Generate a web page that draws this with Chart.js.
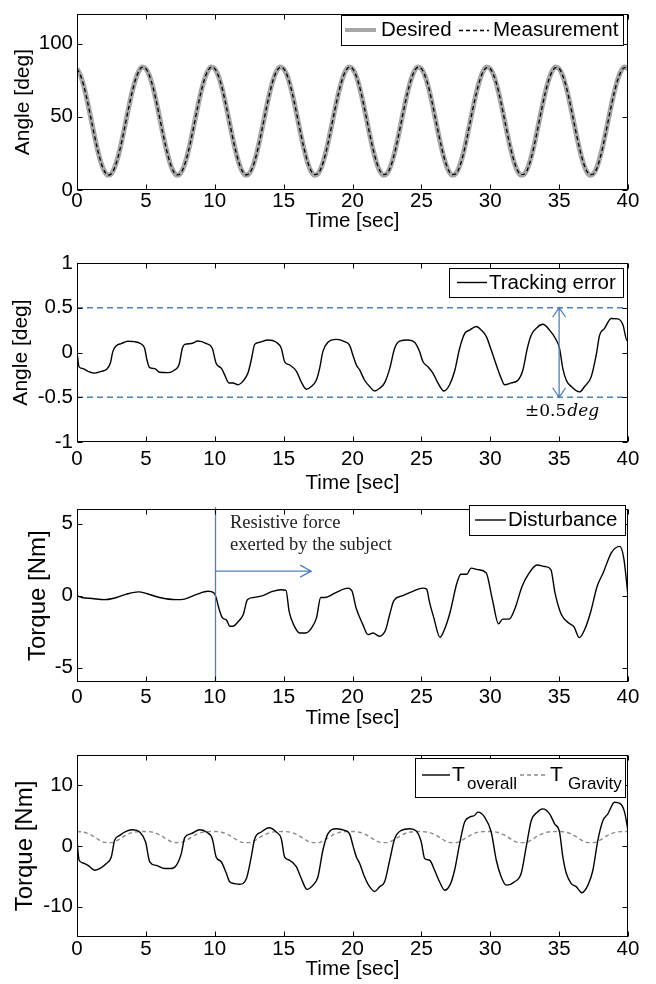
<!DOCTYPE html>
<html><head><meta charset="utf-8">
<script src="https://cdn.jsdelivr.net/npm/chart.js@4.4.1/dist/chart.umd.min.js"></script>
<style>
html,body{margin:0;padding:0;background:#fff;}
#wrap{position:relative;width:656px;height:984px;overflow:hidden;background:#fff;}
canvas{position:absolute;left:0;}
</style></head><body><div id="wrap">
<canvas id="c1" style="top:0px" width="656" height="240"></canvas>
<canvas id="c2" style="top:240px" width="656" height="255"></canvas>
<canvas id="c3" style="top:495px" width="656" height="240"></canvas>
<canvas id="c4" style="top:735px" width="656" height="249"></canvas>
</div>
<script>
// ---------------- data ----------------
const timeTicks = [0, 5, 10, 15, 20, 25, 30, 35, 40];
const angleTicks = [0, 50, 100];
const errorTicks = [-1, -0.5, 0, 0.5, 1];
const distTicks = [-5, 0, 5];
const torqueTicks = [-10, 0, 10];

const angleTime = [0,0.25,0.5,0.75,1,1.25,1.5,1.75,2,2.25,2.5,2.75,3,3.25,3.5,3.75,4,4.25,4.5,4.75,
5,5.25,5.5,5.75,6,6.25,6.5,6.75,7,7.25,7.5,7.75,8,8.25,8.5,8.75,9,9.25,9.5,9.75,
10,10.25,10.5,10.75,11,11.25,11.5,11.75,12,12.25,12.5,12.75,13,13.25,13.5,13.75,14,14.25,14.5,14.75,
15,15.25,15.5,15.75,16,16.25,16.5,16.75,17,17.25,17.5,17.75,18,18.25,18.5,18.75,19,19.25,19.5,19.75,
20,20.25,20.5,20.75,21,21.25,21.5,21.75,22,22.25,22.5,22.75,23,23.25,23.5,23.75,24,24.25,24.5,24.75,
25,25.25,25.5,25.75,26,26.25,26.5,26.75,27,27.25,27.5,27.75,28,28.25,28.5,28.75,29,29.25,29.5,29.75,
30,30.25,30.5,30.75,31,31.25,31.5,31.75,32,32.25,32.5,32.75,33,33.25,33.5,33.75,34,34.25,34.5,34.75,
35,35.25,35.5,35.75,36,36.25,36.5,36.75,37,37.25,37.5,37.75,38,38.25,38.5,38.75,39,39.25,39.5,39.75,40];

const desiredAngle = [82.8,78.2,70.6,60.6,49.3,37.8,27.2,18.5,12.6,10.1,11.2,15.8,23.4,33.4,44.7,56.2,66.8,75.5,81.4,83.9,
82.8,78.2,70.6,60.6,49.3,37.8,27.2,18.5,12.6,10.1,11.2,15.8,23.4,33.4,44.7,56.2,66.8,75.5,81.4,83.9,
82.8,78.2,70.6,60.6,49.3,37.8,27.2,18.5,12.6,10.1,11.2,15.8,23.4,33.4,44.7,56.2,66.8,75.5,81.4,83.9,
82.8,78.2,70.6,60.6,49.3,37.8,27.2,18.5,12.6,10.1,11.2,15.8,23.4,33.4,44.7,56.2,66.8,75.5,81.4,83.9,
82.8,78.2,70.6,60.6,49.3,37.8,27.2,18.5,12.6,10.1,11.2,15.8,23.4,33.4,44.7,56.2,66.8,75.5,81.4,83.9,
82.8,78.2,70.6,60.6,49.3,37.8,27.2,18.5,12.6,10.1,11.2,15.8,23.4,33.4,44.7,56.2,66.8,75.5,81.4,83.9,
82.8,78.2,70.6,60.6,49.3,37.8,27.2,18.5,12.6,10.1,11.2,15.8,23.4,33.4,44.7,56.2,66.8,75.5,81.4,83.9,
82.8,78.2,70.6,60.6,49.3,37.8,27.2,18.5,12.6,10.1,11.2,15.8,23.4,33.4,44.7,56.2,66.8,75.5,81.4,83.9,82.8];

const measuredAngle = [82.8,78.3,70.8,60.8,49.5,38.0,27.4,18.6,12.7,10.2,11.1,15.6,23.2,33.2,44.6,56.1,66.7,75.4,81.4,83.9,
82.9,78.3,70.8,60.8,49.5,38.0,27.4,18.7,12.7,10.3,11.1,15.6,23.2,33.2,44.5,56.1,66.7,75.4,81.4,83.9,
82.9,78.3,70.9,60.9,49.6,38.1,27.5,18.8,12.9,10.4,11.2,15.5,23.1,33.1,44.5,56.0,66.6,75.4,81.3,83.8,
82.9,78.4,70.9,61.0,49.6,38.2,27.6,18.9,13.0,10.5,11.2,15.5,23.1,33.1,44.5,56.0,66.6,75.3,81.3,83.8,
82.9,78.4,70.9,61.0,49.7,38.2,27.6,18.9,13.0,10.5,11.2,15.5,23.1,33.1,44.5,56.0,66.6,75.3,81.3,83.8,
82.9,78.4,71.0,61.1,49.7,38.3,27.7,19.0,13.0,10.5,11.0,15.2,22.8,32.9,44.4,56.0,66.5,75.2,81.1,83.6,
82.8,78.4,71.0,61.1,49.7,38.3,27.7,19.0,13.0,10.5,10.9,15.2,22.8,32.9,44.4,56.0,66.5,75.2,81.1,83.6,
82.9,78.4,71.0,61.1,49.7,38.3,27.8,19.0,13.0,10.5,10.9,15.0,22.7,32.8,44.3,55.9,66.4,75.1,81.0,83.5,82.7];

const errorTime = [0,0.15,0.44,0.8,1.28,1.77,2.13,2.42,2.6,2.86,3.22,3.7,4.19,4.6,4.91,5.08,5.28,5.64,6.0,6.6,
7.09,7.4,7.65,7.82,8.3,8.78,9.39,9.82,10.1,10.5,10.72,11.03,11.32,11.69,12.05,12.41,12.65,12.9,13.26,13.86,
14.47,14.83,15.07,15.44,15.92,16.28,16.65,17.01,17.37,17.61,17.85,18.22,18.82,19.43,19.79,20.03,20.28,20.52,20.88,21.24,
21.61,21.97,22.33,22.7,23.06,23.42,24.03,24.51,24.87,25.11,25.48,25.84,26.2,26.64,27.05,27.41,27.78,28.14,28.5,28.99,
29.35,29.71,30.07,30.44,30.8,31.04,31.52,32.01,32.37,32.69,32.98,33.41,33.82,34.31,34.79,35.03,35.27,35.52,35.88,36.48,
36.85,37.33,37.69,37.94,38.3,38.78,39.27,39.63,39.94,40];
const trackingError = [0,-0.16,-0.18,-0.21,-0.23,-0.21,-0.19,-0.12,0.01,0.076,0.10,0.125,0.121,0.10,0.047,-0.084,-0.17,-0.18,-0.22,-0.225,
-0.195,-0.14,0.047,0.09,0.10,0.128,0.10,0.047,-0.12,-0.18,-0.25,-0.34,-0.34,-0.36,-0.32,-0.23,-0.084,0.09,0.114,0.14,
0.114,0.047,-0.10,-0.14,-0.207,-0.33,-0.41,-0.38,-0.31,-0.18,0.01,0.114,0.147,0.121,0.08,-0.03,-0.14,-0.195,-0.31,-0.38,
-0.43,-0.40,-0.34,-0.18,0.047,0.128,0.14,0.114,0.01,-0.10,-0.16,-0.23,-0.34,-0.43,-0.36,-0.21,0.047,0.21,0.25,0.29,
0.25,0.18,0.028,-0.14,-0.29,-0.36,-0.34,-0.31,-0.195,0.047,0.196,0.28,0.315,0.25,0.14,0.047,-0.18,-0.31,-0.38,-0.44,
-0.38,-0.27,-0.03,0.196,0.27,0.38,0.375,0.31,0.13,0.13];
const errorLimits = [0.5, -0.5];
const errorArrowTime = 35;

const distTime = [0,0.36,1.1,2.0,2.6,3.55,4.47,5.1,6.0,7.2,7.8,8.7,9.5,9.94,10.1,10.3,10.55,10.85,11.1,11.3,
11.76,12.07,12.37,12.83,13.43,14.2,14.8,15.17,15.4,15.7,16.17,16.6,17.08,17.39,17.69,17.99,18.75,19.67,19.97,20.27,
20.73,21.12,21.49,21.95,22.4,22.7,23.0,23.6,24.38,25.1,25.38,25.59,25.9,26.35,26.66,27.1,27.57,27.87,28.3,28.6,
29.09,29.7,30.15,30.6,30.9,31.37,31.8,32.3,32.76,33.4,33.95,34.4,34.7,35.16,35.78,36.08,36.47,36.84,37.3,37.75,
38.2,38.8,39.4,39.7,40];
const disturbance = [0,-0.13,-0.2,-0.28,-0.2,0.09,0.26,0.13,-0.13,-0.28,-0.24,0.09,0.3,0.19,-0.13,-0.88,-1.53,-1.7,-2.13,-2.13,
-1.74,-1.31,-0.28,-0.13,-0.02,0.3,0.41,0.37,-1.1,-1.96,-2.6,-2.6,-2.17,-1.53,-0.13,-0.13,0.19,0.52,0.3,-0.88,
-1.96,-2.71,-2.6,-2.82,-2.39,-1.31,-0.34,-0.02,0.3,0.52,0.45,-0.45,-1.53,-2.9,-2.39,-1.1,0.84,1.48,1.48,1.91,
1.81,1.59,-0.24,-1.96,-1.63,-1.63,-0.88,0.62,1.48,2.13,2.02,1.81,0.19,-1.31,-1.96,-2.17,-2.92,-2.39,-1.1,0.62,
1.59,2.99,3.42,2.56,0];
const forceOnsetTime = 10;
const forceArrow = { from: 10, to: 17, level: 1.7 };

const overallTime = [0,0.15,0.44,0.8,1.28,1.77,2.13,2.49,2.73,3.1,3.6,4.07,4.55,4.98,5.28,5.76,6.37,6.85,7.21,7.57,
7.82,8.3,8.9,9.39,9.82,10.1,10.47,10.84,11.08,11.44,11.81,12.3,12.65,12.9,13.38,13.94,14.47,14.83,15.07,15.44,
15.92,16.28,16.7,17.13,17.49,17.85,18.22,18.82,19.43,19.79,20.03,20.28,20.52,20.88,21.24,21.61,21.97,22.33,22.7,23.06,
23.54,24.15,24.63,24.99,25.24,25.6,25.96,26.32,26.69,27.12,27.41,27.78,28.14,28.5,28.86,29.1,29.59,30.07,30.44,30.8,
31.16,31.77,32.25,32.61,32.98,33.41,33.82,34.31,34.67,35.03,35.27,35.52,35.88,36.24,36.65,37.09,37.45,37.81,38.18,38.54,
39.02,39.46,39.75,40];
const torqueOverall = [0.93,-2.3,-2.8,-3.2,-4.0,-3.55,-2.9,-1.8,0.93,1.75,2.46,2.68,2.3,0.66,-2.6,-3.2,-3.7,-3.7,-3.2,-1.25,
1.37,2.03,2.68,2.3,1.2,-1.8,-2.6,-4.5,-5.9,-6.2,-6.3,-5.35,-1.8,1.2,2.3,3.0,2.3,1.2,-1.8,-2.35,
-3.4,-5.35,-7.15,-6.45,-5.1,-0.7,2.03,2.85,2.57,2.0,0.1,-1.8,-2.9,-5.1,-6.7,-7.5,-6.7,-5.9,-2.35,1.2,
2.57,2.85,2.46,0.66,-2.07,-2.35,-4.0,-5.9,-7.3,-6.2,-4.0,0.39,3.94,4.76,5.03,5.58,4.76,2.3,-2.35,-5.1,
-6.45,-5.9,-4.5,-0.16,4.2,5.58,6.12,5.3,3.67,2.3,-1.8,-4.5,-6.2,-6.7,-7.7,-6.45,-4.0,0.93,4.2,5.3,
7.2,6.95,5.58,2.57];

const gravityTime = [0,0.5,1,1.5,2,2.5,3,3.5,4,4.5,5,5.5,6,6.5,7,7.5,8,8.5,9,9.5,
10,10.5,11,11.5,12,12.5,13,13.5,14,14.5,15,15.5,16,16.5,17,17.5,18,18.5,19,19.5,
20,20.5,21,21.5,22,22.5,23,23.5,24,24.5,25,25.5,26,26.5,27,27.5,28,28.5,29,29.5,
30,30.5,31,31.5,32,32.5,33,33.5,34,34.5,35,35.5,36,36.5,37,37.5,38,38.5,39,39.5,40];
const torqueGravity = [2.38,2.27,1.84,1.15,0.60,0.55,1.01,1.72,2.21,2.37,
2.38,2.27,1.84,1.15,0.60,0.55,1.01,1.72,2.21,2.37,
2.38,2.27,1.84,1.15,0.60,0.55,1.01,1.72,2.21,2.37,
2.38,2.27,1.84,1.15,0.60,0.55,1.01,1.72,2.21,2.37,
2.38,2.27,1.84,1.15,0.60,0.55,1.01,1.72,2.21,2.37,
2.38,2.27,1.84,1.15,0.60,0.55,1.01,1.72,2.21,2.37,
2.38,2.27,1.84,1.15,0.60,0.55,1.01,1.72,2.21,2.37,
2.38,2.27,1.84,1.15,0.60,0.55,1.01,1.72,2.21,2.37,2.38];

// ---------------- drawing ----------------
const FONT = "'Liberation Sans', Arial, Helvetica, sans-serif";
const SERIF = "'Liberation Serif', 'Times New Roman', serif";
const MATH = "'DejaVu Serif', 'Liberation Serif', serif";
const BLUE = '#4f81bd';
const FS = 20.5;
Chart.defaults.font.family = FONT;
Chart.defaults.font.size = FS;
Chart.defaults.color = '#000';

function zip(ts, vs) { return ts.map((t, i) => ({ x: t, y: vs[i] })); }

const matlabFrame = {
  id: 'matlabFrame',
  afterDatasetsDraw(chart, args, opts) {
    const ctx = chart.ctx, a = chart.chartArea, xs = chart.scales.x, ys = chart.scales.y;
    ctx.save();
    if (opts.annotate) opts.annotate(ctx, xs, ys, a);
    ctx.strokeStyle = '#000';
    ctx.lineWidth = 1;
    ctx.setLineDash([]);
    const L = Math.round(a.left) + 0.5, R = Math.round(a.right) - 0.5;
    const T = Math.round(a.top) + 0.5, B = Math.round(a.bottom) - 0.5;
    ctx.strokeRect(L, T, R - L, B - T);
    ctx.beginPath();
    xs.ticks.forEach(t => {
      const px = Math.round(xs.getPixelForValue(t.value)) + 0.5;
      ctx.moveTo(px, B); ctx.lineTo(px, B - 5);
      ctx.moveTo(px, T); ctx.lineTo(px, T + 5);
    });
    ys.ticks.forEach(t => {
      const py = Math.round(ys.getPixelForValue(t.value)) + 0.5;
      ctx.moveTo(L, py); ctx.lineTo(L + 5, py);
      ctx.moveTo(R, py); ctx.lineTo(R - 5, py);
    });
    ctx.stroke();
    if (opts.legend) opts.legend(ctx);
    ctx.restore();
  }
};

function legendBox(ctx, x1, y1, x2, y2) {
  ctx.fillStyle = '#fff';
  ctx.fillRect(x1, y1, x2 - x1, y2 - y1);
  ctx.strokeStyle = '#000'; ctx.lineWidth = 1; ctx.setLineDash([]);
  ctx.strokeRect(x1 + 0.5, y1 + 0.5, x2 - x1, y2 - y1);
}
function legendLine(ctx, x1, x2, y, color, width, dash) {
  ctx.strokeStyle = color; ctx.lineWidth = width; ctx.setLineDash(dash || []);
  ctx.beginPath(); ctx.moveTo(x1, y); ctx.lineTo(x2, y); ctx.stroke();
  ctx.setLineDash([]);
}
function legendText(ctx, txt, x, y, size) {
  ctx.fillStyle = '#000'; ctx.font = size + 'px ' + FONT;
  ctx.textAlign = 'left'; ctx.textBaseline = 'middle';
  ctx.fillText(txt, x, y);
}

function makePanel(id, p) {
  return new Chart(document.getElementById(id), {
    type: 'line',
    data: { datasets: p.datasets },
    options: {
      responsive: false, animation: false, devicePixelRatio: 1,
      layout: { padding: { top: p.padTop, right: 28, left: 0, bottom: 0 } },
      plugins: {
        legend: { display: false }, tooltip: { enabled: false },
        matlabFrame: { annotate: p.annotate, legend: p.legend }
      },
      elements: { point: { radius: 0 }, line: { borderJoinStyle: 'round', cubicInterpolationMode: 'monotone' } },
      scales: {
        x: {
          type: 'linear', min: 0, max: 40,
          grid: { display: false, drawTicks: false }, border: { display: false },
          ticks: { padding: p.xTickPad, maxRotation: 0, autoSkip: false, font: { size: FS, lineHeight: 1 }, callback: v => String(v) },
          title: { display: true, text: 'Time [sec]', font: { size: FS, lineHeight: 1 }, padding: { top: 0, bottom: p.xTitlePad } },
          afterBuildTicks: s => { s.ticks = timeTicks.map(v => ({ value: v })); },
          afterFit: s => { s.height = p.xAxisH; }
        },
        y: {
          type: 'linear', min: p.yMin, max: p.yMax,
          grid: { display: false, drawTicks: false }, border: { display: false },
          ticks: { padding: 4, autoSkip: false, font: { size: FS, lineHeight: 1 }, callback: v => String(v) },
          title: { display: true, text: p.yTitle, font: { size: p.yTitleSize, lineHeight: 1 }, padding: { top: p.yTitlePad, bottom: 0 } },
          afterBuildTicks: s => { s.ticks = p.yTicks.map(v => ({ value: v })); },
          afterFit: s => { s.width = 77; }
        }
      }
    },
    plugins: [matlabFrame]
  });
}

// Panel 1 : angle
makePanel('c1', {
  padTop: 10, xAxisH: 50, xTickPad: 1.5, xTitlePad: 8.5, yTitlePad: 12.5, yTitleSize: 21,
  yMin: 0, yMax: 120, yTicks: angleTicks, yTitle: 'Angle [deg]',
  datasets: [
    { label: 'Measurement', data: zip(angleTime, measuredAngle), borderColor: '#000', borderWidth: 1.3, borderDash: [4, 3], clip: 0 },
    { label: 'Desired', data: zip(angleTime, desiredAngle), borderColor: '#a6a6a6', borderWidth: 5, clip: 0 }
  ],
  legend(ctx) {
    legendBox(ctx, 341, 15, 623, 45);
    legendLine(ctx, 345, 376, 30, '#a6a6a6', 4);
    legendText(ctx, 'Desired', 381, 30.5, FS);
    legendLine(ctx, 459, 489, 30.5, '#000', 1.3, [4, 3]);
    legendText(ctx, 'Measurement', 493, 30.5, FS);
  }
});

// Panel 2 : tracking error
makePanel('c2', {
  padTop: 23, xAxisH: 53, xTickPad: 7.5, xTitlePad: 1.5, yTitlePad: 11, yTitleSize: 21,
  yMin: -1, yMax: 1, yTicks: errorTicks, yTitle: 'Angle [deg]',
  datasets: [
    { label: 'Tracking error', data: zip(errorTime, trackingError), borderColor: '#000', borderWidth: 1.4 },
    { label: '+limit', data: [{ x: 0, y: errorLimits[0] }, { x: 40, y: errorLimits[0] }], borderColor: BLUE, borderWidth: 1.3, borderDash: [6, 4] },
    { label: '-limit', data: [{ x: 0, y: errorLimits[1] }, { x: 40, y: errorLimits[1] }], borderColor: BLUE, borderWidth: 1.3, borderDash: [6, 4] }
  ],
  annotate(ctx, xs, ys) {
    const x = xs.getPixelForValue(errorArrowTime);
    const y1 = ys.getPixelForValue(errorLimits[0]), y2 = ys.getPixelForValue(errorLimits[1]);
    ctx.strokeStyle = BLUE; ctx.lineWidth = 1.3; ctx.setLineDash([]);
    ctx.beginPath();
    ctx.moveTo(x, y1); ctx.lineTo(x, y2);
    ctx.moveTo(x - 6.5, y1 + 9.5); ctx.lineTo(x, y1); ctx.lineTo(x + 6.5, y1 + 9.5);
    ctx.moveTo(x - 6.5, y2 - 9.5); ctx.lineTo(x, y2); ctx.lineTo(x + 6.5, y2 - 9.5);
    ctx.stroke();
    ctx.fillStyle = '#000'; ctx.textAlign = 'left'; ctx.textBaseline = 'middle';
    ctx.font = '17px ' + MATH;
    ctx.fillText('±0.5', 525, 172);
    const w = ctx.measureText('±0.5').width;
    ctx.font = 'italic 17px ' + MATH;
    ctx.fillText('deg', 525 + w + 1, 172);
  },
  legend(ctx) {
    legendBox(ctx, 449, 28, 623, 57);
    legendLine(ctx, 457, 487, 42.5, '#000', 1.4);
    legendText(ctx, 'Tracking error', 489, 43, FS);
  }
});

// Panel 3 : disturbance
makePanel('c3', {
  padTop: 5, xAxisH: 53, xTickPad: 5.5, xTitlePad: 6.5, yTitlePad: 26, yTitleSize: 24,
  yMin: -6, yMax: 6, yTicks: distTicks, yTitle: 'Torque [Nm]',
  datasets: [
    { label: 'Disturbance', data: zip(distTime, disturbance), borderColor: '#000', borderWidth: 1.4 }
  ],
  annotate(ctx, xs, ys, a) {
    const x0 = Math.round(xs.getPixelForValue(forceOnsetTime)) + 0.5;
    ctx.strokeStyle = BLUE; ctx.lineWidth = 1.3; ctx.setLineDash([]);
    ctx.beginPath();
    ctx.moveTo(x0, a.top - 2); ctx.lineTo(x0, a.bottom);
    const ya = ys.getPixelForValue(forceArrow.level);
    const xa1 = xs.getPixelForValue(forceArrow.from), xa2 = xs.getPixelForValue(forceArrow.to);
    ctx.moveTo(xa1, ya); ctx.lineTo(xa2, ya);
    ctx.moveTo(xa2 - 11, ya - 6); ctx.lineTo(xa2, ya); ctx.lineTo(xa2 - 11, ya + 6);
    ctx.stroke();
    ctx.fillStyle = '#222'; ctx.textAlign = 'left'; ctx.textBaseline = 'middle';
    ctx.font = '18.5px ' + SERIF;
    ctx.fillText('Resistive force', 230, 28);
    ctx.fillText('exerted by the subject', 230, 50);
  },
  legend(ctx) {
    legendBox(ctx, 469, 10, 625, 40);
    legendLine(ctx, 475, 506, 25, '#000', 1.4);
    legendText(ctx, 'Disturbance', 508, 25.5, FS);
  }
});

// Panel 4 : overall torque vs gravity torque
makePanel('c4', {
  padTop: 20, xAxisH: 47, xTickPad: 2.5, xTitlePad: 4.5, yTitlePad: 13, yTitleSize: 24,
  yMin: -15, yMax: 15, yTicks: torqueTicks, yTitle: 'Torque [Nm]',
  datasets: [
    { label: 'T overall', data: zip(overallTime, torqueOverall), borderColor: '#000', borderWidth: 1.4 },
    { label: 'T Gravity', data: zip(gravityTime, torqueGravity), borderColor: '#8c8c8c', borderWidth: 1.4, borderDash: [4, 3] }
  ],
  legend(ctx) {
    legendBox(ctx, 415, 23, 625, 62);
    legendLine(ctx, 422, 450, 40, '#000', 1.4);
    legendText(ctx, 'T', 452, 40, 21);
    legendText(ctx, 'overall', 467, 49, 17);
    legendLine(ctx, 520, 547, 40, '#8c8c8c', 1.4, [4, 3]);
    legendText(ctx, 'T', 550, 40, 21);
    legendText(ctx, 'Gravity', 568, 49, 17);
  }
});
</script>
</body></html>
